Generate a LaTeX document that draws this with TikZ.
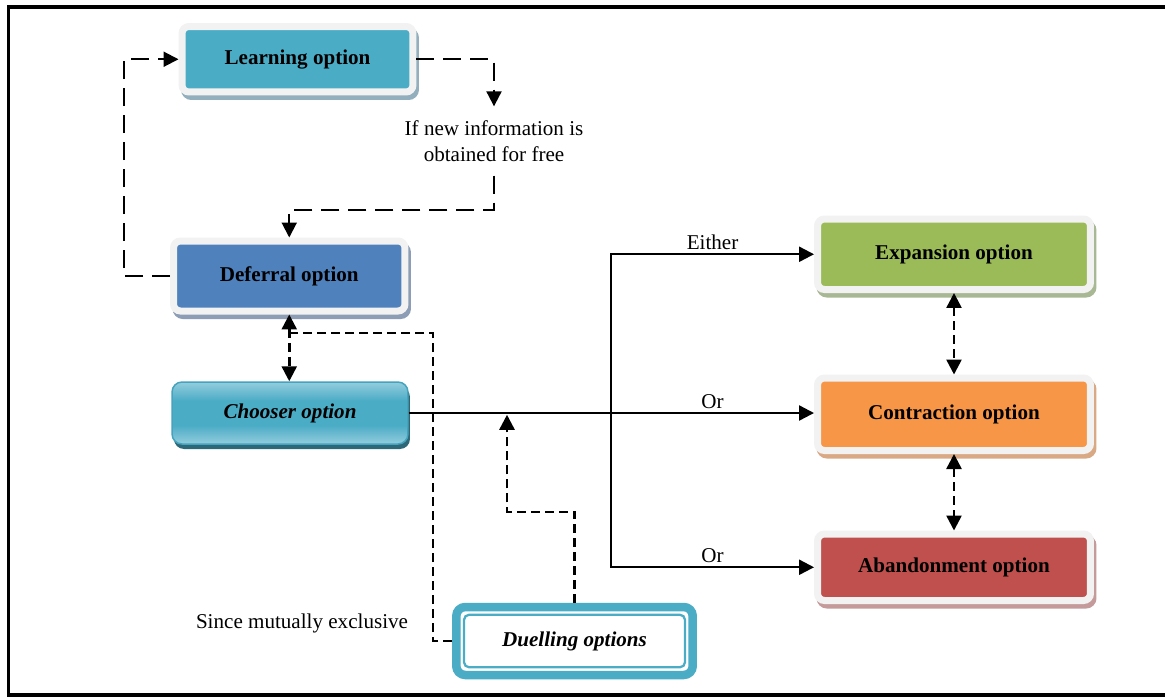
\documentclass[tikz,border=0pt]{standalone}
\usepackage{fontspec}
\setmainfont{Liberation Serif}
\usetikzlibrary{arrows.meta,shadows,calc}
\definecolor{learnc}{HTML}{4BACC6}
\definecolor{deferc}{HTML}{4F81BD}
\definecolor{expc}{HTML}{9BBB59}
\definecolor{conc}{HTML}{F79646}
\definecolor{abac}{HTML}{C0504D}
\definecolor{framec}{HTML}{F2F2F2}
\definecolor{learnsh}{HTML}{93AFBE}
\definecolor{defersh}{HTML}{8C9DB5}
\definecolor{expsh}{HTML}{A9B894}
\definecolor{consh}{HTML}{D9A985}
\definecolor{abash}{HTML}{C49A9A}
\definecolor{chlight}{HTML}{93CDDD}
\definecolor{chborder}{HTML}{45A3BE}
\definecolor{chshadow}{HTML}{2D6878}
\pgfdeclareverticalshading{chshade}{100bp}{color(0bp)=(chlight); color(25bp)=(chlight);
  color(40bp)=(learnc); color(60bp)=(learnc); color(75bp)=(chlight); color(100bp)=(chlight)}
\begin{document}
\begin{tikzpicture}[x=0.02cm,y=-0.02cm,
  font=\fontsize{12}{14.5}\selectfont,
  >={Triangle[length=0.3cm,width=0.3cm]},
  optbox/.style 2 args={fill=#1, draw=framec, line width=0.14cm,
    rounded corners=0.14cm, inner sep=0pt,
    font=\fontsize{12}{14.5}\selectfont\bfseries,
    general shadow={fill=#2, draw=#2, line width=0.14cm,
      shadow xshift=0.05cm, shadow yshift=-0.09cm}},
  longdash/.style={line width=0.04cm, dash pattern=on 0.36cm off 0.18cm},
  shortdash/.style={line width=0.05cm, dash pattern=on 0.18cm off 0.1cm},
  solidl/.style={line width=0.045cm},
  lbl/.style={inner sep=2pt}]
\useasboundingbox (0,0) rectangle (1165,697);
\fill[white] (0,0) rectangle (1165,697);
% frame
\draw[line width=0.065cm] (1166,7) -- (8.5,7) -- (8.5,695) -- (1166,695);

% boxes
\node[optbox={learnc}{learnsh}, minimum width=4.62cm, minimum height=1.31cm]
  (learn) at (297.5,59.25) {Learning option};
\node[optbox={deferc}{defersh}, minimum width=4.63cm, minimum height=1.40cm]
  (defer) at (289.25,276) {Deferral option};
\node[optbox={expc}{expsh}, minimum width=5.46cm, minimum height=1.41cm]
  (expan) at (954,254.25) {Expansion option};
\node[optbox={conc}{consh}, minimum width=5.46cm, minimum height=1.45cm]
  (contr) at (954,414.25) {Contraction option};
\node[optbox={abac}{abash}, minimum width=5.46cm, minimum height=1.33cm]
  (aband) at (954,567.25) {Abandonment option};
\node[draw=chborder, line width=0.03cm, rounded corners=0.2cm,
  shading=chshade,
  minimum width=4.72cm, minimum height=1.24cm, inner sep=0pt,
  font=\fontsize{12}{14.5}\selectfont\bfseries\itshape,
  general shadow={fill=chshadow, shadow xshift=0.04cm, shadow yshift=-0.1cm}]
  (chooser) at (290,413) {Chooser option};
\node[draw=learnc, fill=white, line width=0.17cm, rounded corners=0.18cm,
  minimum width=4.73cm, minimum height=1.36cm, inner sep=0pt,
  font=\fontsize{12}{14.5}\selectfont\bfseries\itshape]
  (duel) at (574.5,641) {Duelling options};
\draw[learnc, line width=0.045cm, rounded corners=0.1cm]
  ($(duel.north west)+(12,12)$) rectangle ($(duel.south east)+(-12,-12)$);

% text labels
\node[align=center, inner xsep=0pt, inner ysep=8pt] (info) at (494,141)
  {If new information is\\obtained for free};
\node[inner sep=0pt] (since) at (302,623) {Since mutually exclusive};

% coordinates
\coordinate (ib) at (494,210);
\coordinate (dj) at (289.25,333);
\coordinate (jn) at (611,413);
\coordinate (cj) at (507,413);

% dashed connectors (left part)
\draw[longdash,->] (learn.east) -| (info.north);
\draw[longdash,->] (info.south) -- (ib) -| (defer.north);
\draw[longdash,->] (defer.west) -- ++(-46,0) |- (learn.west);
\draw[shortdash,<->] (defer.south) -- (defer.south |- chooser.north);
\draw[shortdash] (duel.west) -- ++(-19,0) |- (dj);
\draw[shortdash,->,shorten >=1pt] (duel.north) -- ++(0,-91) -| (cj);

% solid connectors
\draw[solidl,->] (chooser.east) -- (jn) -- (jn -| contr.west)
  node[midway,above,lbl] {Or};
\draw[solidl,->] (jn) |- (expan.west) node[pos=0.75,above,lbl] {Either};
\draw[solidl,->] (jn) |- (aband.west) node[pos=0.75,above,lbl] {Or};

% right dashed
\draw[shortdash,<->] (expan.south) -- (contr.north);
\draw[shortdash,<->] (contr.south) -- (aband.north);
\end{tikzpicture}
\end{document}
